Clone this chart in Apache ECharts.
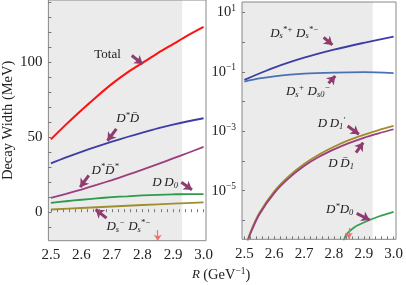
<!DOCTYPE html>
<html><head><meta charset="utf-8">
<script src="https://cdn.jsdelivr.net/npm/echarts@6/dist/echarts.min.js"></script>
<style>html,body{margin:0;padding:0;background:#fff}#c{width:406px;height:285px}</style>
</head><body><div id="c"></div>
<script>
// ---- data: left panel (MeV) ----
const xLeft = [2.5, 2.55, 2.6, 2.65, 2.7, 2.75, 2.8, 2.85, 2.9, 2.95, 3.0];
const totalW = [48.5, 58.5, 68, 77, 85.5, 93, 99.5, 106, 112, 118, 123.5];
const dStarDbar = [32.5, 36.5, 40.2, 43.7, 47, 50.1, 53, 55.8, 58.3, 60.6, 62.6];
const dStarDbarStar = [9.5, 12.2, 15.1, 18.2, 21.4, 24.8, 28.3, 32, 35.8, 39.6, 43.5];
const dD0 = [6.2, 7.3, 8.3, 9.2, 10, 10.6, 11.2, 11.6, 11.9, 12.1, 12.1];
const xLeftDs = [2.5, 2.6, 2.7, 2.8, 2.9, 3.0];
const dsDsStar = [1.8, 2.8, 3.8, 4.8, 5.7, 6.6];
// ---- data: right panel (MeV, log) ----
const xRight = [2.5, 2.55, 2.6, 2.7, 2.8, 2.9, 3.0];
const dsStarDsStar = [0.054, 0.088, 0.14, 0.30, 0.56, 0.95, 1.55];
const dsDs0 = [0.047, 0.060, 0.071, 0.087, 0.095, 0.098, 0.091];
const xThr = [2.505, 2.52, 2.55, 2.6, 2.65, 2.7, 2.75, 2.8, 2.85, 2.9, 2.95, 3.0];
const dD1prime = [1.41e-7, 3.98e-7, 1.78e-6, 9.55e-6, 3.16e-5, 7.94e-5, 1.66e-4, 3.02e-4, 5.01e-4, 7.59e-4, 1.10e-3, 1.51e-3];
const dDbar1 = [1.26e-7, 3.55e-7, 1.58e-6, 8.32e-6, 2.69e-5, 6.76e-5, 1.38e-4, 2.45e-4, 3.98e-4, 6.03e-4, 8.51e-4, 1.17e-3];
const xDstarD0 = [2.825, 2.84, 2.87, 2.9, 2.95, 3.0];
const dStarD0 = [1.0e-7, 3.16e-7, 6.03e-7, 8.51e-7, 1.35e-6, 1.95e-6];
const markX = 2.85;
const shadeEnd = 2.93;
const xTickLabels = ['2.5', '2.6', '2.7', '2.8', '2.9', '3.0'];
const yTickLabelsLeft = ['0', '50', '100'];
const yTickExpRight = [1, -1, -3, -5];

const pair = (xs, ys) => xs.map((x, i) => [x, ys[i]]);
const SERIF = 'Liberation Serif';
const rich = {
  i: {fontFamily: SERIF, fontStyle: 'italic', fontSize: 13, color: '#222'},
  r: {fontFamily: SERIF, fontSize: 13, color: '#222'},
  sup: {fontFamily: SERIF, fontStyle: 'italic', fontSize: 8.5, color: '#222', padding: [0, 0, 7, 0]},
  sub: {fontFamily: SERIF, fontSize: 8.5, fontStyle: 'italic', color: '#222', padding: [6, 0, 0, 0]},
  b: {fontFamily: SERIF, fontSize: 14.5, color: '#222'},
  t: {fontFamily: SERIF, fontSize: 15, color: '#222'},
  e: {fontFamily: SERIF, fontSize: 9.5, color: '#222', padding: [0, 0, 8, 0]}
};
const ARROW = '#8e3b6f';
function note(coord, text) {
  return {coord: coord, symbolSize: 0, label: {show: true, position: 'inside', formatter: text, rich: rich}};
}
function arrow(a, b) { return [{coord: a}, {coord: b}]; }
function mk(notes, arrows) {
  return {
    markPoint: {silent: true, animation: false, data: notes},
    markLine: {silent: true, animation: false, symbol: ['none', 'arrow'], symbolSize: 8,
      lineStyle: {color: ARROW, width: 3, type: 'solid'}, label: {show: false}, data: arrows}
  };
}
function line(name, xi, yi, data, color, width, extra) {
  return Object.assign({name: name, type: 'line', xAxisIndex: xi, yAxisIndex: yi, data: data,
    showSymbol: false, smooth: 0.3, animation: false, z: 3,
    lineStyle: {color: color, width: width || 1.8}}, extra || {});
}
const shade = (xi, yi) => ({type: 'line', xAxisIndex: xi, yAxisIndex: yi, data: [], animation: false,
  markArea: {silent: true, itemStyle: {color: '#ebebeb'}, data: [[{xAxis: 2.492}, {xAxis: shadeEnd}]]}});
const redMark = (xi, yi, y1, y2) => ({type: 'line', xAxisIndex: xi, yAxisIndex: yi, data: [], animation: false, z: 4,
  markLine: {silent: true, animation: false, symbol: ['none', 'arrow'], symbolSize: 6,
    lineStyle: {color: '#f07070', width: 1.2, type: 'solid'}, label: {show: false},
    data: [[{coord: [markX, y1]}, {coord: [markX, y2]}]]}});

const xFmt = v => { const s = v.toFixed(1); return (Math.abs(v * 10 - Math.round(v * 10)) < 1e-6 && xTickLabels.includes(s)) ? '{t|' + s + '}' : ''; };
const xAxisCommon = (gi) => ({type: 'value', gridIndex: gi, min: 2.492, max: 3.008, splitNumber: 26, z: 10,
  axisLine: {show: false}, splitLine: {show: false},
  axisTick: {show: true, inside: true, length: 3, lineStyle: {color: '#777'}},
  axisLabel: {formatter: xFmt, rich: rich, fontFamily: SERIF, fontSize: 15, margin: 7, showMinLabel: false, showMaxLabel: false}});

const option = {
  backgroundColor: '#fff',
  animation: false,
  textStyle: {fontFamily: SERIF},
  grid: [
    {left: 46, width: 160, top: -2, bottom: 44.3, show: true, borderColor: '#888', borderWidth: 1, backgroundColor: 'transparent', z: 10},
    {left: 242, width: 158.5, top: 2, bottom: 45.7, show: true, borderColor: '#888', borderWidth: 1, backgroundColor: 'transparent', z: 10}
  ],
  xAxis: [xAxisCommon(0), xAxisCommon(1)],
  yAxis: [
    {type: 'value', gridIndex: 0, min: -19, max: 141.4, splitNumber: 16, z: 10,
      axisLine: {show: false}, splitLine: {show: false},
      axisTick: {show: true, inside: true, length: 3, lineStyle: {color: '#777'}},
      axisLabel: {rich: rich, fontFamily: SERIF, fontSize: 15, margin: 6, showMinLabel: false, showMaxLabel: false,
        formatter: v => yTickLabelsLeft.includes(String(v)) ? '{t|' + v + '}' : ''},
      name: 'Decay Width (MeV)', nameLocation: 'middle', nameGap: 31, nameRotate: 90,
      nameTextStyle: {fontFamily: SERIF, fontSize: 14.5, color: '#222'}},
    {type: 'log', logBase: 10, gridIndex: 1, min: 2.31e-7, max: 22.5, splitNumber: 8, z: 10,
      axisLine: {show: false}, splitLine: {show: false},
      axisTick: {show: true, inside: true, length: 3, lineStyle: {color: '#777'}},
      axisLabel: {margin: 6, fontFamily: SERIF, showMinLabel: false, showMaxLabel: false, rich: rich,
        formatter: v => { const l = Math.log10(v); const e = Math.round(l);
          if (Math.abs(l - e) > 1e-3 || !yTickExpRight.includes(e)) return '';
          return '{b|10}{e|' + (e < 0 ? '\u2212' + (-e) : e) + '}'; }}}
  ],
  graphic: [{type: 'text', left: 192, top: 266, style: {rich: rich,
    text: '{i|R} {b|(GeV}{e|\u22121}{b|)}', fill: '#222'}}],
  series: [
    shade(0, 0), shade(1, 1),
    line('Total', 0, 0, pair(xLeft, totalW), '#ff1010', 2,
      mk([note([2.6855, 105.3], '{r|Total}')], [arrow([2.765, 104.4], [2.8006, 98.7])])),
    line('D*Dbar', 0, 0, pair(xLeft, dStarDbar), '#3d3da6', 1.8,
      mk([note([2.7516, 62.1], '{i|D}{sup|*}{i|D\u0304}')], [arrow([2.7145, 55.5], [2.6855, 47.6])])),
    line('D*Dbar*', 0, 0, pair(xLeft, dStarDbarStar), '#9c3d7d', 1.8,
      mk([note([2.6774, 27.8], '{i|D}{sup|*}{i|D\u0304}{sup|*}')], [arrow([2.6242, 24.5], [2.5961, 16.7])])),
    line('DD0', 0, 0, pair(xLeft, dD0), '#2f9a4c', 1.8,
      mk([note([2.8742, 19.4], '{i|D\u2009D}{sub|0}')], [arrow([2.9274, 20.0], [2.9619, 15.0])])),
    line('DsDs*', 0, 0, pair(xLeftDs, dsDsStar), '#a08e2e', 1.8,
      mk([note([2.7548, -9.7], '{i|D}{sub|s}{sup|\u2212}{i| D}{sub|s}{sup|*\u2212}')], [arrow([2.6823, -4.0], [2.6468, 1.8])])),
    redMark(0, 0, -11.9, -19),
    line('Ds*Ds*', 1, 1, pair(xRight, dsStarDsStar), '#3d3da6', 1.8,
      mk([note([2.6678, 2.0], '{i|D}{sub|s}{sup|*+}{i| D}{sub|s}{sup|*\u2212}')], [arrow([2.7655, 1.46], [2.7948, 0.805])])),
    line('DsDs0', 1, 1, pair(xRight, dsDs0), '#4a72b2', 1.8,
      mk([note([2.7134, 0.0215], '{i|D}{sub|s}{sup|+}{i| D}{sub|s0}{sup|\u2212}')], [arrow([2.7818, 0.0413], [2.8046, 0.0728])])),
    line('DD1prime', 1, 1, pair(xThr, dD1prime), '#a08e2e', 1.8,
      mk([note([2.7915, 1.76e-3], '{i|D\u2009D}{sub|1}{sup|\u2032}')], [arrow([2.8459, 1.51e-3], [2.8837, 7.93e-4])])),
    line('DDbar1', 1, 1, pair(xThr, dDbar1), '#9c3d7d', 1.8,
      mk([note([2.8241, 8.38e-5], '{i|D\u2009D\u0304}{sub|1}')], [arrow([2.8739, 1.9e-4], [2.898, 4.13e-4])])),
    line('D*D0', 1, 1, pair(xDstarD0, dStarD0), '#35a050', 1.8,
      mk([note([2.8192, 2.24e-6], '{i|D}{sup|*}{i|D}{sub|0}')], [arrow([2.8762, 1.73e-6], [2.9195, 1.03e-6])])),
    redMark(1, 1, 5.55e-7, 2.4e-7)
  ]
};
const chart = echarts.init(document.getElementById('c'), null, {renderer: 'canvas'});
chart.setOption(option);
</script></body></html>
